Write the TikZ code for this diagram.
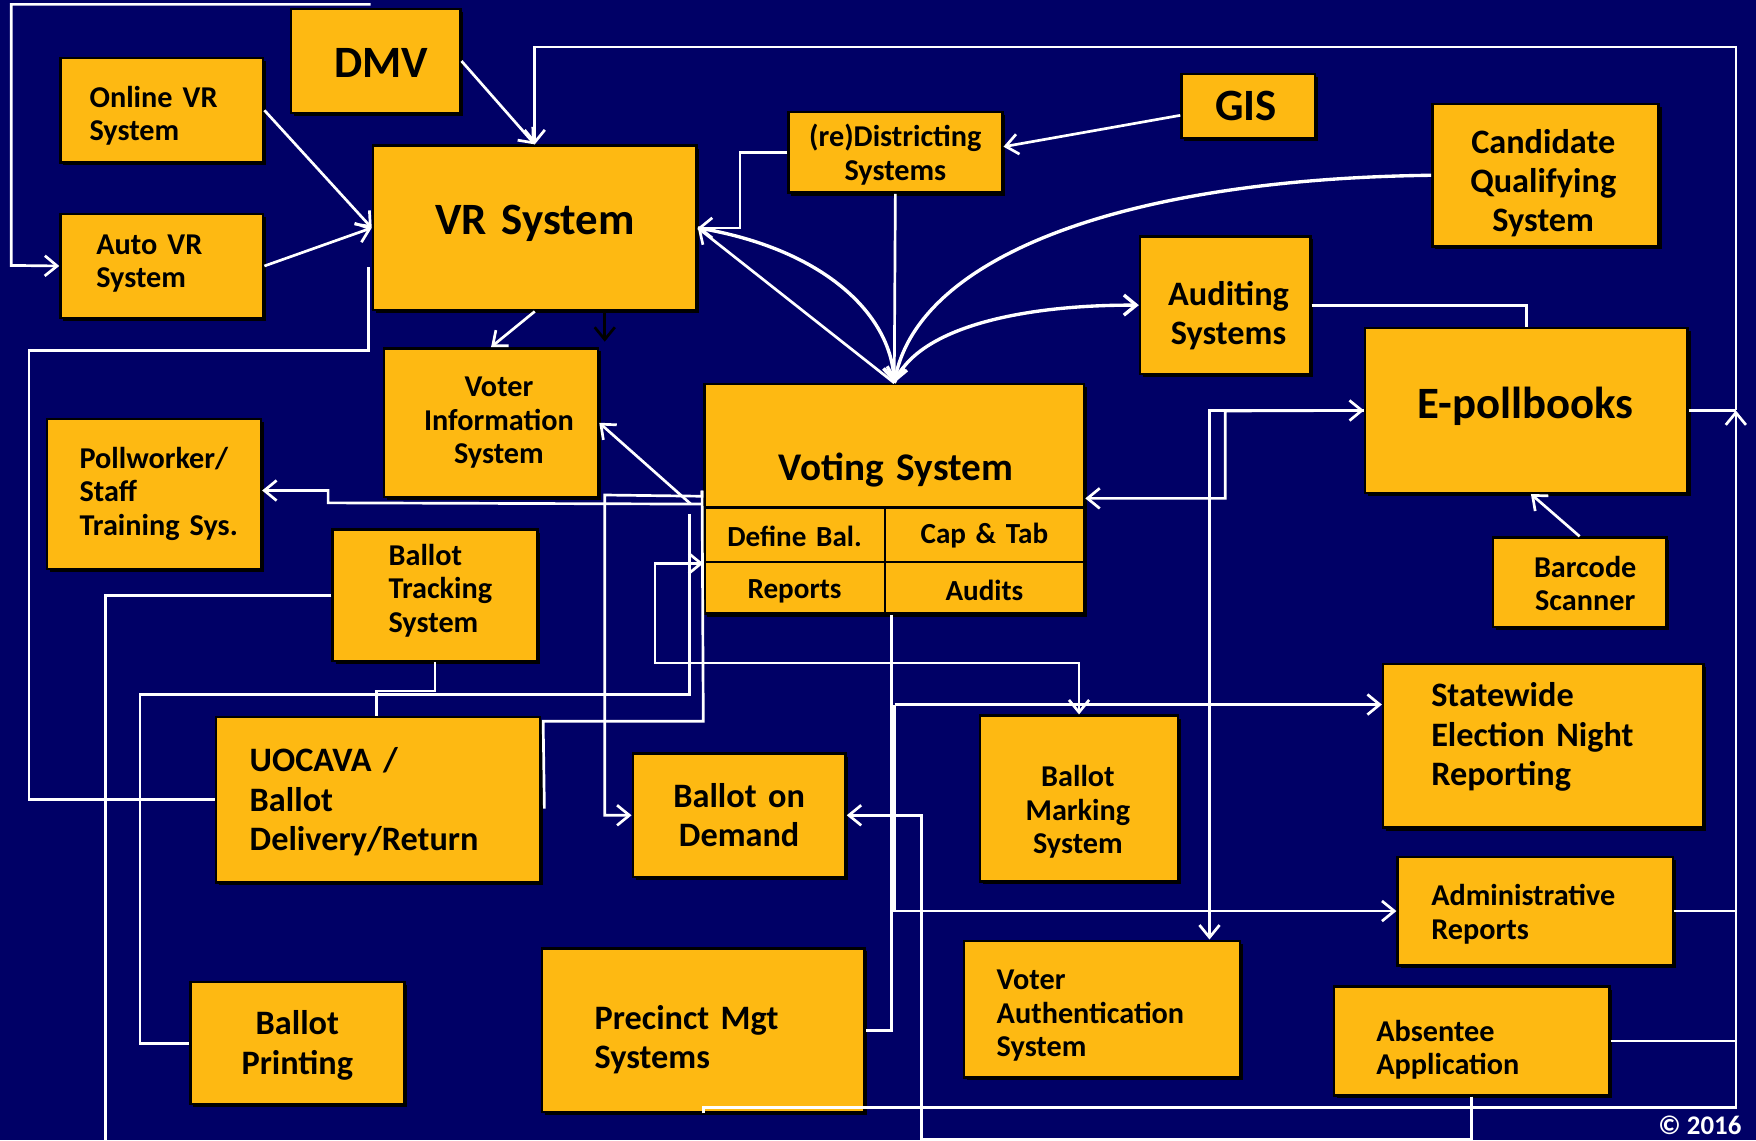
\documentclass[tikz,border=0pt]{standalone}
\usepackage{fontspec}
\setmainfont{Carlito}
\usetikzlibrary{arrows.meta,calc,shadows}
\definecolor{navy}{RGB}{0,0,102}
\definecolor{gold}{RGB}{254,185,18}
\newcommand{\ftL}{\fontsize{20}{24}\selectfont}
\newcommand{\ftV}{\fontsize{17.5}{21}\selectfont}
\newcommand{\ftM}{\fontsize{15.3}{17.5}\selectfont}
\newcommand{\ftS}{\fontsize{13.5}{15}\selectfont}
\newcommand{\ftC}{\fontsize{13}{15}\selectfont}
\hyphenpenalty=10000
\exhyphenpenalty=10000
% \ybox{name}{x1}{y1}{x2}{y2}{inset}{options}{text offset dx,dy}{text}
\newcommand{\ybox}[9]{%
  \pgfmathsetmacro{\yxc}{(#2+#4)/2}%
  \pgfmathsetmacro{\yyc}{(#3+#5)/2}%
  \pgfmathsetmacro{\yw}{(#4-#2)*0.5}%
  \pgfmathsetmacro{\yh}{(#5-#3)*0.5}%
  \pgfmathsetmacro{\ytw}{(#4-#2-2*#6)*0.5}%
  \node[ybx, minimum width=\yw pt, minimum height=\yh pt] (#1) at (\yxc,\yyc) {};
  \node[ytx, #7, text width=\ytw pt] (#1t) at ($(\yxc,\yyc)+(#8)$) {#9};}
\begin{document}
\begin{tikzpicture}[x=0.5pt,y=-0.5pt,
  ybx/.style={draw=black, line width=1.1pt, fill=gold, inner sep=0pt,
     general shadow={fill=black, shadow xshift=1.3pt, shadow yshift=-1.3pt}},
  ytx/.style={inner sep=0pt, text=black},
  wline/.style={draw=white, line width=1.2pt},
  cline/.style={draw=white, line width=1.5pt},
  bline/.style={draw=black, line width=1.2pt},
  tip/.style={-{Straight Barb[length=5.5pt,width=9pt]}},
  tips/.style={{Straight Barb[length=5.5pt,width=9pt]}-{Straight Barb[length=5.5pt,width=9pt]}}
]
\useasboundingbox (0,0) rectangle (1568,1018);
\fill[navy] (0,0) rectangle (1568,1018);

% boxes
\ybox{dmv}{260}{8}{411}{101}{4}{font=\bfseries\ftL, align=center}{5,2}{DMV}
\ybox{onl}{54}{52}{235}{145}{26}{font=\bfseries\ftS, align=left}{0,5}{Online~VR\\System}
\ybox{auto}{54}{191}{235}{284}{32}{font=\bfseries\ftS, align=left}{0,-2}{Auto~VR\\System}
\ybox{vr}{333}{130}{622}{277}{4}{font=\bfseries\ftL, align=center}{0,-4}{VR System}
\ybox{red}{704}{100}{895}{172}{4}{font=\bfseries\ftS, align=center}{0,2}{(re)Districting\\Systems}
\ybox{gis}{1055}{66}{1174}{123}{4}{font=\bfseries\ftL, align=center}{-2,0}{GIS}
\ybox{cq}{1279}{93}{1481}{220}{4}{font=\bfseries\ftM, align=center}{-2,7}{Candidate\\Qualifying\\System}
\ybox{aud}{1018}{211}{1170}{334}{4}{font=\bfseries\ftM, align=center}{3,9}{Auditing\\Systems}
\ybox{epb}{1219}{293}{1507}{440}{4}{font=\bfseries\ftL, align=center}{-1,-4}{E-pollbooks}
\ybox{vi}{343}{311}{534}{444}{4}{font=\bfseries\ftS, align=center}{7,0}{Voter\\Information\\System}
\ybox{vs}{629}{343}{968}{453}{4}{font=\bfseries\ftV, align=center}{1.5,22}{Voting System}
\ybox{db}{629}{453}{790}{502}{2}{font=\bfseries\ftC, align=center}{0,1}{Define Bal.}
\ybox{ct}{790}{453}{968}{502}{2}{font=\bfseries\ftC, align=center}{0,1}{Cap \& Tab}
\ybox{rp}{629}{502}{790}{548}{2}{font=\bfseries\ftC, align=center}{0,3}{Reports}
\ybox{au}{790}{502}{968}{548}{2}{font=\bfseries\ftC, align=center}{0,2}{Audits}
\ybox{pw}{42}{374}{233}{508}{29}{font=\bfseries\ftS, align=left}{0,0}{Pollworker/\\Staff\\Training~Sys.}
\ybox{bts}{297}{473}{480}{590}{50}{font=\bfseries\ftS, align=left}{0,-4}{Ballot\\Tracking\\System}
\ybox{bc}{1333}{480}{1488}{560}{4}{font=\bfseries\ftS, align=center}{5,1}{Barcode\\Scanner}
\ybox{sw}{1235}{593}{1521}{739}{43}{font=\bfseries\ftM, align=left}{0,-8}{Statewide\\Election~Night\\Reporting}
\ybox{uoc}{193}{640}{482}{788}{30}{font=\bfseries\ftM, align=left}{0,2}{UOCAVA~/\\Ballot\\Delivery/Return}
\ybox{bod}{565}{673}{755}{783}{4}{font=\bfseries\ftM, align=center}{0,0}{Ballot on\\Demand}
\ybox{bms}{875}{639}{1052}{787}{4}{font=\bfseries\ftS, align=center}{-1,12}{Ballot\\Marking\\System}
\ybox{adm}{1248}{765}{1494}{862}{30}{font=\bfseries\ftS, align=left}{0,3}{Administrative\\Reports}
\ybox{va}{861}{840}{1107}{962}{29}{font=\bfseries\ftS, align=left}{0,6}{Voter\\Authentication\\System}
\ybox{bp}{170}{877}{361}{986}{4}{font=\bfseries\ftM, align=center}{0,2}{Ballot\\Printing}
\ybox{pm}{484}{847}{772}{993}{47}{font=\bfseries\ftM, align=left}{0,8}{Precinct~Mgt\\Systems}
\ybox{abs}{1191}{881}{1437}{978}{38}{font=\bfseries\ftS, align=left}{0,8}{Absentee\\Application}

\node[anchor=east, text=white, font=\bfseries\fontsize{12}{14}\selectfont] (cpy) at (1562,1005) {© 2016};

% connectors
\coordinate (rj) at (epb.east -| 1550,0);
\coordinate (j1) at ($(au.south west)+(10,80)$);

\draw[wline,tip] ($(dmv.north west)+(72,-3)$) -| (10,237) -- (auto.west);
\draw[wline,tip] (onl.east) -- (vr.west);
\draw[wline,tip] (auto.east) -- (vr.west);
\draw[wline,tip] (dmv.east) -- (vr.north);
\draw[wline] (epb.east) -- (rj);
\draw[wline,tip] (pm.south) -- ++(0,-5) -| (rj);
\draw[wline,tip] (rj) |- (vr.north |- 0,42) -- (vr.north);
\draw[wline] (adm.east) -- (adm.east -| rj);
\draw[wline] (abs.east) -- (abs.east -| rj);

\draw[wline,tip] (red.west) -- ++(-42,0) |- (vr.east);
\draw[wline,tip] (gis.west |- 0,103) -- (red.east |- 0,131);
\draw[wline,tip] (red.south) -- (vs.north);
\draw[wline,tip] (vs.north) -- (vr.east);
\draw[cline,tip] (vr.east) .. controls (735,222) and (795,280) .. (vs.north);
\draw[cline,tip] (cq.west) .. controls (1000,160) and (820,230) .. (vs.north);
\draw[cline,tip] (vs.north) .. controls (820,290) and (920,272) .. (aud.west);
\draw[wline] (aud.east) -| (epb.north);
\draw[wline,tip] (bc.north) -- ($(epb.south)+(4,0)$);
\draw[wline,tips] (vs.east |- 0,445) -| (1094,367) -- (epb.west);
\draw[wline,tip] (epb.west) -| (va.north -| 1080,0);

\draw[wline,tip] (vr.south) -- (vi.north);
\draw[bline,tip] (vr.south -| 540,0) -- ++(0,27);
\draw[wline,tip] ($(vs.south west)+(-11,-4)$) -- (vi.east);
\draw[wline,tip] ($(vs.south west)+(-1,-4)$) -- (293,449) -- (293,438) -- (pw.east |- 0,438);
\draw[wline,tip] ($(vs.south west)+(-1,-16)$) -- ++(0,5) -- (540,442) |- (bod.west);
\draw[wline] ($(vs.south west)+(-1,-16)$) -- (628,644) -- (485,644) -- ($(uoc.east)+(3,8)$);
\draw[wline] ($(vs.south west)+(-12,5)$) |- (125,620) |- (bp.west);
\draw[wline,tips] (db.south west) -- ++(-43,0) |- (bms.north |- 0,592) -- (bms.north);
\draw[wline] ($(au.south west)+(7,0)$) |- (pm.east);
\draw[wline,tip] (j1) -- (sw.west |- j1);
\draw[wline,tip] (j1) |- (adm.west);
\draw[wline,tip] (abs.south) -- ++(0,38) -| (bod.east -| 823,0) -- (bod.east);
\draw[wline] (bts.west) -| (94,1018);
\draw[wline] (bts.south) -- ++(0,26) -| ($(uoc.north west)+(144,0)$);
\draw[wline] (uoc.west) -| (26,313) -| ($(vr.south west)+(-3,-40)$);
\end{tikzpicture}
\end{document}
